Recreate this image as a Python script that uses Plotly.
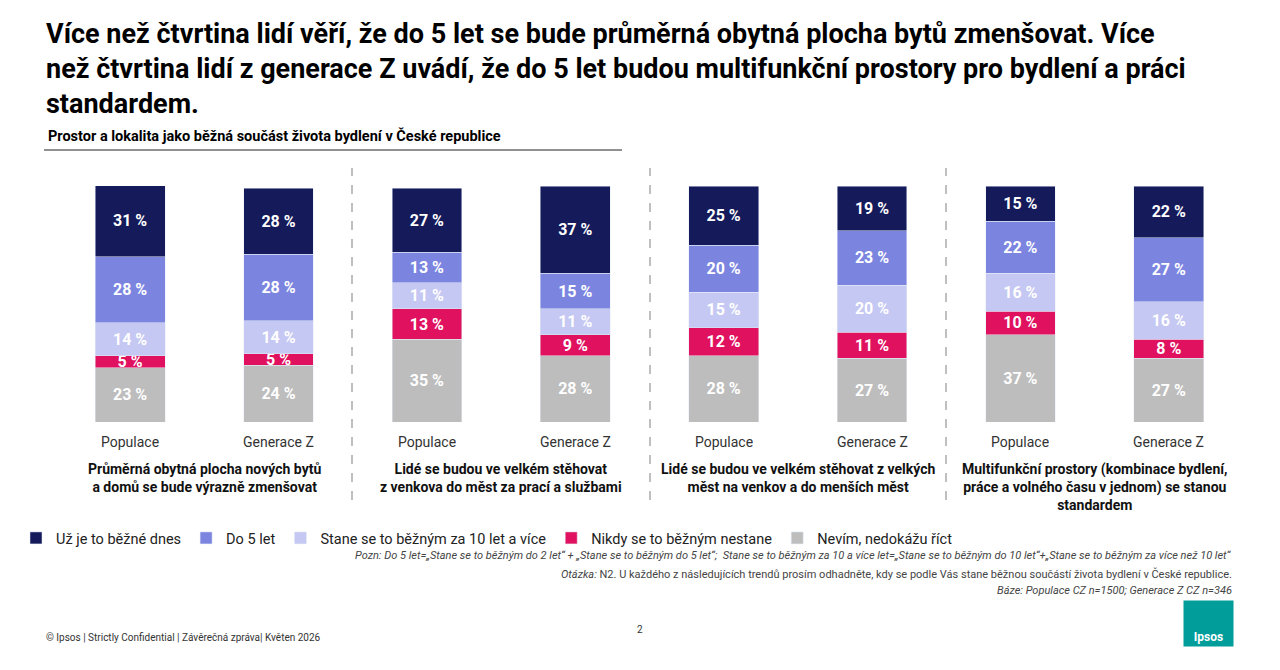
import plotly.graph_objects as go

bars = ["Populace", "Generace Z"] * 4
x_pos = list(range(8))

series = ["Už je to běžné dnes", "Do 5 let", "Stane se to běžným za 10 let a více",
          "Nikdy se to běžným nestane", "Nevím, nedokážu říct"]
colors = ["#141a5a", "#7b85e0", "#c5c8f2", "#e0115f", "#bdbdbd"]

uz_dnes = [31, 28, 27, 37, 25, 19, 15, 22]
do_5 = [28, 28, 13, 15, 20, 23, 22, 27]
za_10 = [14, 14, 11, 11, 15, 20, 16, 16]
nikdy = [5, 5, 13, 9, 12, 11, 10, 8]
nevim = [23, 24, 35, 28, 28, 27, 37, 27]

groups = ["Průměrná obytná plocha nových bytů<br>a domů se bude výrazně zmenšovat",
          "Lidé se budou ve velkém stěhovat<br>z venkova do měst za prací a službami",
          "Lidé se budou ve velkém stěhovat z velkých<br>měst na venkov a do menších měst",
          "Multifunkční prostory (kombinace bydlení,<br>práce a volného času v jednom) se stanou<br>standardem"]

title = ("Více než čtvrtina lidí věří, že do 5 let se bude průměrná obytná plocha bytů zmenšovat. Více<br>"
         "než čtvrtina lidí z generace Z uvádí, že do 5 let budou multifunkční prostory pro bydlení a práci<br>"
         "standardem.")

# page has an 8px body margin, so the figure is a bit smaller
W, H, OFF = 1264, 654, 8


def px_(p):
    return (p - OFF) / W


def py(p):
    return (H - (p - OFF)) / H


fig = go.Figure()
stack = [nevim, nikdy, za_10, do_5, uz_dnes]
for vals, nm, c in zip(stack, series[::-1], colors[::-1]):
    fig.add_trace(go.Bar(x=x_pos, y=vals, name=nm, marker_color=c, width=0.47,
                         text=[f"<b>{v} %</b>" for v in vals], textposition="inside",
                         insidetextanchor="middle", textangle=0, constraintext="none",
                         textfont=dict(color="white", size=16)))

fig.update_layout(
    width=W, height=H, barmode="stack", plot_bgcolor="white", paper_bgcolor="white",
    margin=dict(l=0, r=0, t=0, b=0), font=dict(family="Roboto", color="#222"),
    xaxis=dict(domain=[px_(56), px_(1243)], range=[-0.5, 7.5], visible=False),
    yaxis=dict(domain=[py(422), py(186)], range=[0, 100], visible=False),
    legend=dict(orientation="h", x=px_(16), y=py(522), xanchor="left", yanchor="top",
                traceorder="reversed", font=dict(size=14.5), itemwidth=30),
    showlegend=True,
)

ann = []
ann.append(dict(x=px_(44), y=py(16), xref="paper", yref="paper", xanchor="left", yanchor="top",
                text=f"<b>{title}</b>", align="left", showarrow=False,
                font=dict(size=27, color="black")))
ann.append(dict(x=px_(46), y=py(136), xref="paper", yref="paper", xanchor="left", yanchor="middle",
                text="<b>Prostor a lokalita jako běžná součást života bydlení v České republice</b>",
                showarrow=False, font=dict(size=14.5, color="black")))
for i, b in enumerate(bars):
    ann.append(dict(x=i, y=py(442), xref="x", yref="paper", text=b, showarrow=False,
                    yanchor="middle", font=dict(size=14, color="#333")))
for g, t in enumerate(groups):
    ann.append(dict(x=2 * g + 0.5, y=py(459), xref="x", yref="paper", text=f"<b>{t}</b>",
                    showarrow=False, yanchor="top", align="center",
                    font=dict(size=14, color="#111")))
notes = [
    ("<i>Pozn: Do 5 let=„Stane se to běžným do 2 let“ + „Stane se to běžným do 5 let“;  Stane se to běžným za 10 a více let=„Stane se to běžným do 10 let“+„Stane se to běžným za více než 10 let“</i>", 555),
    ("<i>Otázka:</i> N2. U každého z následujících trendů prosím odhadněte, kdy se podle Vás stane běžnou součástí života bydlení v České republice.", 574),
    ("<i>Báze: Populace CZ n=1500; Generace Z CZ n=346</i>", 590),
]
for t, yy in notes:
    ann.append(dict(x=px_(1234), y=py(yy), xref="paper", yref="paper", xanchor="right",
                    yanchor="middle", text=t, showarrow=False, font=dict(size=11, color="#444")))
ann.append(dict(x=px_(44), y=py(637), xref="paper", yref="paper", xanchor="left", yanchor="middle",
                text="© Ipsos | Strictly Confidential | Závěrečná zpráva| Květen 2026",
                showarrow=False, font=dict(size=10, color="#333")))
ann.append(dict(x=px_(640), y=py(637), xref="paper", yref="paper", text="2", showarrow=False,
                font=dict(size=10, color="#333")))
# Ipsos logo block
ann.append(dict(x=px_(1183), y=py(600), xref="paper", yref="paper", xanchor="left", yanchor="top",
                text="<b>Ipsos</b>", showarrow=False, width=45, height=41, valign="bottom",
                bgcolor="#009d9a", borderpad=2, font=dict(size=12, color="white")))
fig.update_layout(annotations=ann)

shapes = [dict(type="line", xref="paper", yref="paper", x0=px_(44), x1=px_(622),
               y0=py(150), y1=py(150), line=dict(color="#222", width=1))]
for sx in [352, 650, 946]:
    shapes.append(dict(type="line", xref="paper", yref="paper", x0=px_(sx), x1=px_(sx),
                       y0=py(500), y1=py(168), line=dict(color="#aaa", width=1.5, dash="dash")))
fig.update_layout(shapes=shapes)

fig.write_html("out.html")
